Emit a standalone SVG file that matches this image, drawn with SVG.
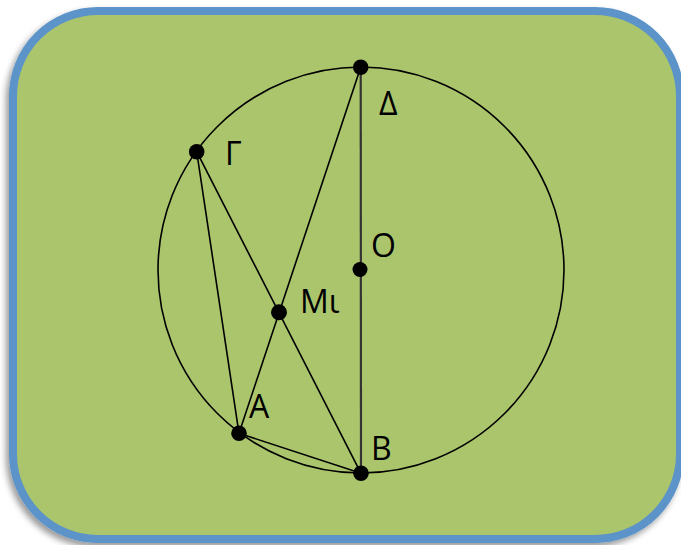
<svg xmlns="http://www.w3.org/2000/svg" width="681" height="545" viewBox="0 0 681 545">
  <defs>
    <filter id="sh" x="-5%" y="-5%" width="110%" height="112%">
      <feDropShadow dx="-3" dy="4" stdDeviation="3" flood-color="#000" flood-opacity="0.4"/>
    </filter>
  </defs>
  <style>
    .ln { stroke: #000; stroke-width: 1.6; fill: none; }
    .dot { fill: #000; }
    .lbl { font-family: "Open Sans", "Liberation Sans", sans-serif; font-size: 32px; fill: #000; }
  </style>
  <rect width="681" height="545" fill="#fff"/>
  <g id="frame">
    <rect x="13" y="11" width="667" height="528" rx="85" ry="85" fill="#ABC56D" stroke="#5B93C9" stroke-width="8" filter="url(#sh)"/>
  </g>
  <g id="circle">
    <circle cx="361" cy="270" r="203" class="ln"/>
  </g>
  <g id="connectors">
    <line x1="196.7" y1="151.7" x2="239" y2="433.3" class="ln"/>
    <line x1="196.7" y1="151.7" x2="361" y2="473.3" class="ln"/>
    <line x1="239" y1="433.3" x2="360.7" y2="67.3" class="ln"/>
    <line x1="239" y1="433.3" x2="361" y2="473.3" class="ln"/>
    <line x1="360.7" y1="67.3" x2="361" y2="473.3" stroke="#333" stroke-width="2.2"/>
  </g>
  <g id="node-delta">
    <circle cx="360.7" cy="67.3" r="7.8" class="dot"/>
    <text x="379" y="115" class="lbl">Δ</text>
  </g>
  <g id="node-gamma">
    <circle cx="196.7" cy="151.7" r="7.8" class="dot"/>
    <text x="225" y="165" class="lbl">Γ</text>
  </g>
  <g id="node-o">
    <circle cx="360" cy="269.5" r="7.5" class="dot"/>
    <text x="371" y="257" class="lbl">O</text>
  </g>
  <g id="node-m1">
    <circle cx="279" cy="312.3" r="8" class="dot"/>
    <text x="300" y="313" class="lbl">Μι</text>
  </g>
  <g id="node-a">
    <circle cx="239" cy="433.3" r="7.8" class="dot"/>
    <text x="249" y="418" class="lbl">Α</text>
  </g>
  <g id="node-b">
    <circle cx="361" cy="473.3" r="7.8" class="dot"/>
    <text x="371" y="460" class="lbl">Β</text>
  </g>
</svg>
